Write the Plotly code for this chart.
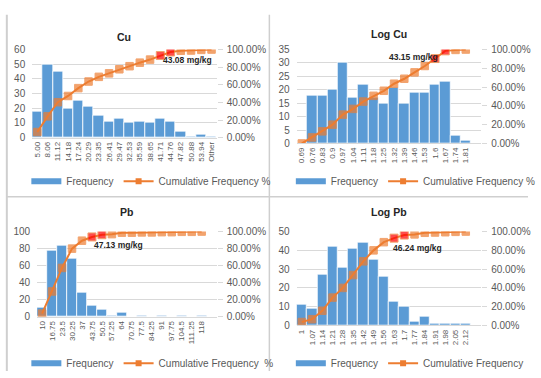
import plotly.graph_objects as go

W, H = 541, 378

# ---------------- data ----------------
cu_cats = ["5.00", "8.06", "11.12", "14.18", "17.24", "20.29", "23.35", "26.41", "29.47",
           "32.53", "35.59", "38.65", "41.71", "44.76", "47.82", "50.88", "53.94", "Other"]
cu_freq = [18, 50, 45, 20, 25, 21, 15, 11, 13, 10, 11, 10, 13, 11, 4, 1, 2, 1]
cu_cum = [6.4, 24.2, 40.2, 47.3, 56.2, 63.7, 69.0, 73.0, 77.6, 81.1, 85.1, 88.6, 93.2, 97.2,
          98.6, 98.9, 99.6, 100.0]
cu_hi = ["41.71", "44.76"]

logcu_cats = ["0.69", "0.76", "0.83", "0.9", "0.97", "1.04", "1.11", "1.18", "1.25", "1.32",
              "1.39", "1.46", "1.53", "1.6", "1.67", "1.74", "1.81"]
logcu_freq = [0, 18, 18, 20, 30, 17, 22, 17, 15, 21, 15, 19, 19, 22, 23, 3, 1]
logcu_cum = [0.0, 6.4, 12.9, 20.0, 30.7, 36.8, 44.6, 50.7, 56.1, 63.6, 68.9, 75.7, 82.5, 90.4,
             98.6, 99.6, 100.0]
logcu_hi = ["1.6", "1.67"]

pb_cats = ["10", "16.75", "23.5", "30.25", "37", "43.75", "50.5", "57.25", "64", "70.75",
           "77.5", "84.25", "91", "97.75", "104.5", "111.25", "118"]
pb_freq = [11, 78, 83, 68, 28, 13, 8, 2, 5, 0, 1, 0, 1, 0, 1, 0, 1]
pb_cum = [3.7, 29.7, 57.3, 80.0, 89.3, 93.7, 96.3, 97.0, 98.7, 98.7, 99.0, 99.0, 99.3, 99.3,
          99.7, 99.7, 100.0]
pb_hi = ["43.75", "50.5"]

logpb_cats = ["1", "1.07", "1.14", "1.21", "1.28", "1.35", "1.42", "1.49", "1.56", "1.63",
              "1.7", "1.77", "1.84", "1.91", "1.98", "2.05", "2.12"]
logpb_freq = [11, 9, 27, 42, 31, 41, 44, 35, 26, 13, 10, 2, 5, 1, 1, 1, 1]
logpb_cum = [3.7, 6.7, 15.7, 29.7, 40.0, 53.7, 68.3, 80.0, 88.7, 93.0, 96.3, 97.0, 98.7, 99.0,
             99.3, 99.7, 100.0]
logpb_hi = ["1.63", "1.7"]

titles = ["Cu", "Log Cu", "Pb", "Log Pb"]
notes = ["43.08 mg/kg", "43.15 mg/kg", "47.13 mg/kg", "46.24 mg/kg"]
cum_names = ["Cumulative Frequency %", "Cumulative Frequency %",
             "Cumulative Frequency  %", "Cumulative Frequency"]
left_max = [60, 35, 100, 50]
left_dtick = [10, 5, 20, 10]

# ---------------- layout (pixels) ----------------
panels = [
    dict(cats=cu_cats, freq=cu_freq, cum=cu_cum, hi=cu_hi,
         box=(33, 222, 46, 137), title_y=33, note=(192, 57), leg=(27, 182)),
    dict(cats=logcu_cats, freq=logcu_freq, cum=logcu_cum, hi=logcu_hi,
         box=(304, 493, 46, 143), title_y=30, note=(424, 54), leg=(298, 182)),
    dict(cats=pb_cats, freq=pb_freq, cum=pb_cum, hi=pb_hi,
         box=(38, 222, 234, 322), title_y=214, note=(121, 248), leg=(27, 370)),
    dict(cats=logpb_cats, freq=logpb_freq, cum=logpb_cum, hi=logpb_hi,
         box=(304, 493, 234, 331), title_y=214, note=(428, 251), leg=(298, 370)),
]
SLOTS = 18

BLUE = "#5B9BD5"
ORANGE = "#ED7D31"
RED = "#FF0000"
GRID = "#D9D9D9"
TXT = "#595959"
FONT = "Liberation Sans, Arial, sans-serif"

fig = go.Figure()
annotations = []
layout = {}

for i, p in enumerate(panels):
    k = i + 1
    xa = "x" if k == 1 else f"x{k}"
    yl_n = 2 * i + 1
    yr_n = 2 * i + 2
    yl = "y" if yl_n == 1 else f"y{yl_n}"
    yr = f"y{yr_n}"
    leg = "legend" if k == 1 else f"legend{k}"

    x0, x1, y0, y1 = p["box"]
    xd = [x0 / W, x1 / W]
    yd = [1 - y1 / H, 1 - y0 / H]

    fig.add_trace(go.Bar(x=p["cats"], y=p["freq"], xaxis=xa, yaxis=yl,
                         marker=dict(color=BLUE, line=dict(color="white", width=0.8)),
                         showlegend=False, hoverinfo="skip"))
    colors = [RED if c in p["hi"] else ORANGE for c in p["cats"]]
    sizes = [8 if c in p["hi"] else 7.5 for c in p["cats"]]
    fig.add_trace(go.Scatter(x=p["cats"], y=[v / 100 for v in p["cum"]], xaxis=xa, yaxis=yr,
                             mode="lines+markers",
                             line=dict(color=ORANGE, width=2),
                             marker=dict(symbol="square", size=sizes, color=colors),
                             showlegend=False, hoverinfo="skip"))
    # legend entries
    fig.add_trace(go.Scatter(x=[None], y=[None], xaxis=xa, yaxis=yl, mode="lines",
                             line=dict(color=BLUE, width=6), name="Frequency",
                             legend=leg, showlegend=True))
    fig.add_trace(go.Scatter(x=[None], y=[None], xaxis=xa, yaxis=yl, mode="lines+markers",
                             line=dict(color=ORANGE, width=2),
                             marker=dict(symbol="square", size=6, color=ORANGE),
                             name=cum_names[i], legend=leg, showlegend=True))

    xkey = "xaxis" if k == 1 else f"xaxis{k}"
    ylkey = "yaxis" if yl_n == 1 else f"yaxis{yl_n}"
    yrkey = f"yaxis{yr_n}"
    layout[xkey] = dict(domain=xd, anchor=yl, type="category", range=[-0.5, SLOTS - 0.5],
                        tickmode="array", tickvals=p["cats"], ticktext=p["cats"],
                        tickangle=-90, tickfont=dict(size=8, color=TXT, family=FONT),
                        showgrid=False, showline=True, linecolor=GRID, linewidth=1,
                        ticks="", fixedrange=True)
    layout[ylkey] = dict(domain=yd, anchor=xa, range=[0, left_max[i]], dtick=left_dtick[i],
                         showgrid=True, gridcolor=GRID, gridwidth=1, zeroline=False,
                         showline=False, ticks="", ticklabelstandoff=6,
                         tickfont=dict(size=10, color=TXT, family=FONT))
    layout[yrkey] = dict(domain=yd, anchor=xa, overlaying=yl, side="right", range=[0, 1],
                         dtick=0.2, tickformat=".2%", showgrid=False, zeroline=False,
                         ticks="outside", ticklen=5, tickcolor=GRID, ticklabelstandoff=2,
                         tickfont=dict(size=10, color=TXT, family=FONT))
    layout[leg] = dict(orientation="h", x=p["leg"][0] / W, y=1 - p["leg"][1] / H,
                       xanchor="left", yanchor="middle", bgcolor="rgba(0,0,0,0)",
                       font=dict(size=10, color=TXT, family=FONT), itemwidth=30,
                       traceorder="normal")

    annotations.append(dict(text=f"<b>{titles[i]}</b>", x=(x0 + x1) / 2 / W,
                            y=1 - p["title_y"] / H, xref="paper", yref="paper",
                            xanchor="center", yanchor="middle",
                            showarrow=False, font=dict(size=10.5, color="#262626", family=FONT)))
    annotations.append(dict(text=f"<b>{notes[i]}</b>", x=p["note"][0] / W,
                            y=1 - p["note"][1] / H, xref="paper", yref="paper",
                            xanchor="center", yanchor="middle",
                            showarrow=False, font=dict(size=8.5, color="#262626", family=FONT)))

FRAME = "#CFCFCF"
shapes = [
    dict(type="line", xref="paper", yref="paper", x0=7 / W, x1=7 / W, y0=0, y1=1 - 10 / H,
         line=dict(color=FRAME, width=2)),
    dict(type="line", xref="paper", yref="paper", x0=276 / W, x1=276 / W, y0=0, y1=1 - 10 / H,
         line=dict(color=FRAME, width=1.5)),
    dict(type="line", xref="paper", yref="paper", x0=7 / W, x1=1, y0=1 - 198 / H, y1=1 - 198 / H,
         line=dict(color=FRAME, width=1.5)),
]

fig.update_layout(width=W, height=H, margin=dict(l=0, r=0, t=0, b=0),
                  paper_bgcolor="white", plot_bgcolor="white", bargap=0,
                  annotations=annotations, shapes=shapes,
                  font=dict(family=FONT, color=TXT), **layout)

fig.write_html("out.html")
